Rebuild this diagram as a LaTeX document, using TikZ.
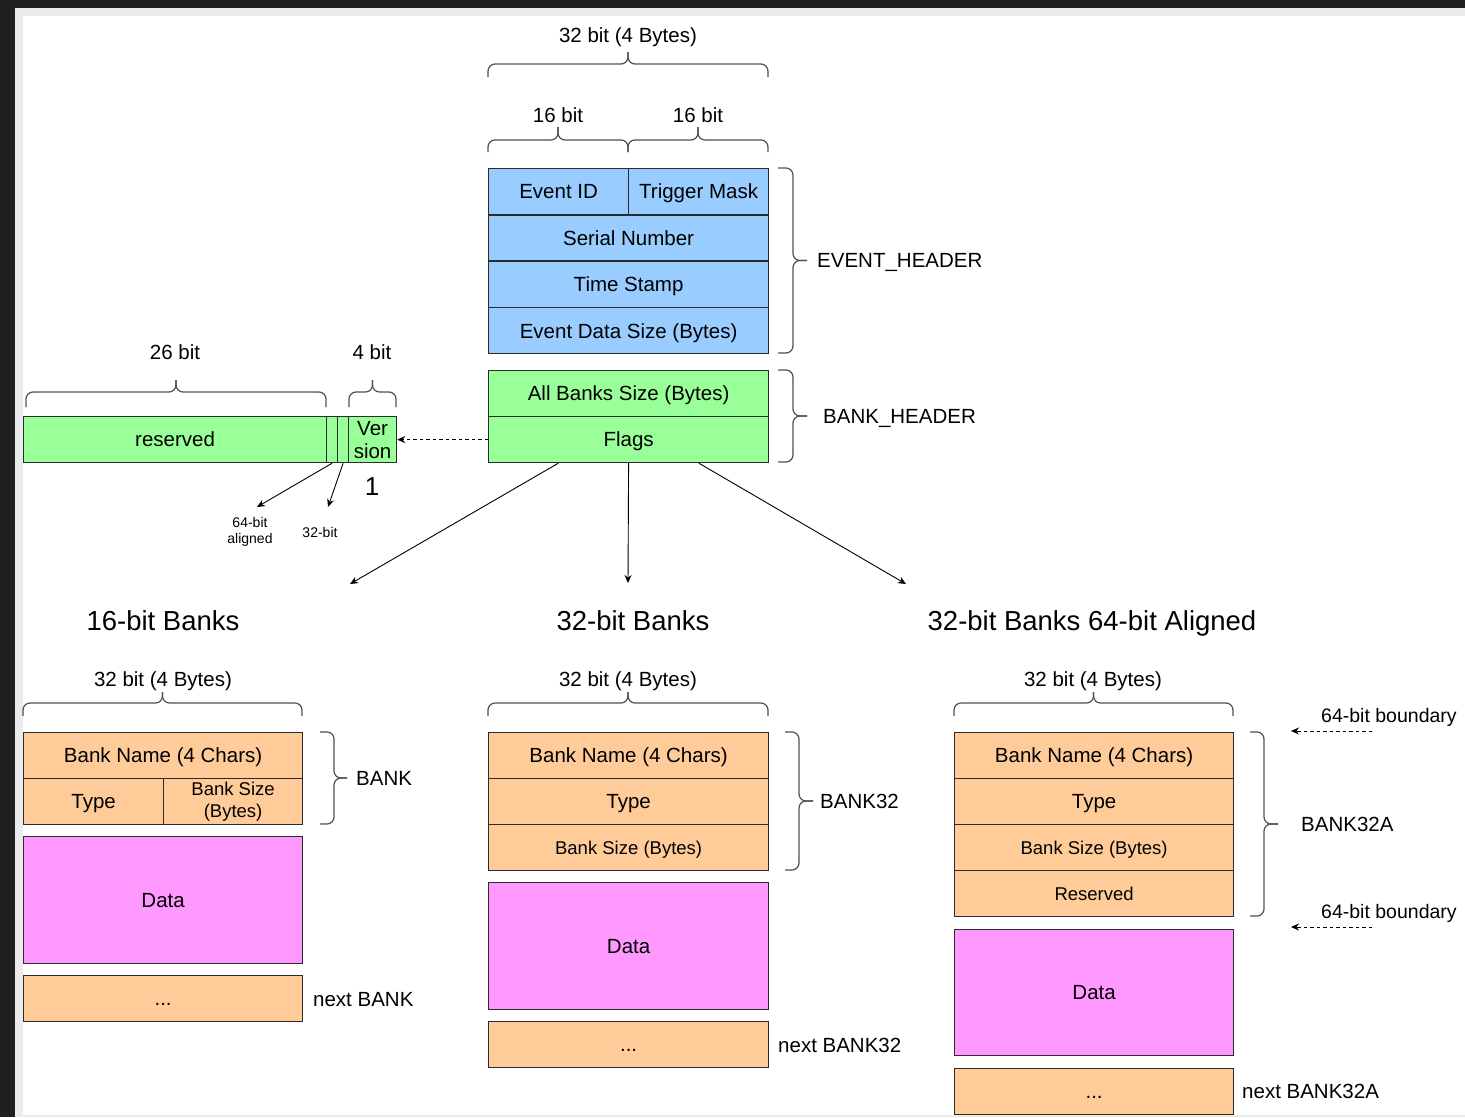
\documentclass[tikz,border=0pt]{standalone}
\usepackage{fontspec}
\setmainfont{Liberation Sans}
\usetikzlibrary{arrows.meta,calc}

\definecolor{hdrblue}{HTML}{99CCFF}
\definecolor{hdrgreen}{HTML}{99FF99}
\definecolor{bankorange}{HTML}{FFCC99}
\definecolor{datapink}{HTML}{FF99FF}
\definecolor{edgecol}{HTML}{2B2B2B}
\definecolor{bracecol}{HTML}{505050}
\definecolor{framedark}{HTML}{202020}
\definecolor{framelight}{HTML}{EBEBEB}

% horizontal curly brace: x1, x2, y of tip, y of bar, y of ends
\newcommand\hbrc[5]{%
  \draw[brc] (#1,#5) -- (#1,#4) -- ({(#1+#2)/2},#4) -- ({(#1+#2)/2},#3);
  \draw[brc] (#2,#5) -- (#2,#4) -- ({(#1+#2)/2},#4) -- ({(#1+#2)/2},#3);}
% vertical curly brace opening left: y1, y2, x of ends, x of bar, x of tip
\newcommand\vbrc[5]{%
  \draw[brc] (#3,#1) -- (#4,#1) -- (#4,{(#1+#2)/2}) -- (#5,{(#1+#2)/2});
  \draw[brc] (#3,#2) -- (#4,#2) -- (#4,{(#1+#2)/2}) -- (#5,{(#1+#2)/2});}

\begin{document}
\begin{tikzpicture}[x=1pt,y=-1pt,
  cellbase/.style={draw=edgecol, line width=1.2pt, inner sep=0pt, anchor=north west,
    minimum height=46pt, align=center, font=\fontsize{20.5}{23}\selectfont},
  capfix/.style={text height=#1, text depth=0pt},
  cell/.style={cellbase, capfix=14.7pt},
  smallcell/.style={cellbase, font=\fontsize{18.5}{22}\selectfont, capfix=13.3pt},
  lbl/.style={inner sep=0pt, font=\fontsize{20.5}{23}\selectfont, capfix=14.7pt},
  sidelbl/.style={lbl, anchor=west},
  tiny/.style={inner sep=0pt, align=center, font=\fontsize{14}{16}\selectfont},
  title/.style={inner sep=0pt, font=\fontsize{27.5}{30}\selectfont, capfix=19.7pt},
  brc/.style={draw=bracecol, line width=1.2pt, rounded corners=7pt},
  conn/.style={draw=black, line width=0.9pt, -{Stealth[length=8pt,width=7pt]}},
  dconn/.style={conn, dash pattern=on 3.5pt off 3pt}]

% page frame
\fill[framedark] (0,0) rectangle (1465,1117);
\fill[framelight] (15,8) rectangle (1465,1117);
\fill[white] (23,16) rectangle (1465,1115);
\useasboundingbox (0,0) rectangle (1465,1117);

% ---------- event header ----------
\node[lbl] (w32top) at (628,35) {32 bit (4 Bytes)};
\hbrc{488}{768}{52}{64}{77}
\node[lbl] (w16a) at (558,115) {16 bit};
\node[lbl] (w16b) at (698,115) {16 bit};
\hbrc{488}{628}{127}{140}{152}
\hbrc{628}{768}{127}{140}{152}

\node[cell, fill=hdrblue, minimum width=140pt] (eid) at (488,168) {Event ID};
\node[cell, fill=hdrblue, minimum width=140pt] (trig) at (628,168) {Trigger Mask};
\node[cell, fill=hdrblue, minimum width=280pt] (serial) at (488,214.3) {Serial Number};
\node[cell, fill=hdrblue, minimum width=280pt] (tstamp) at (488,260.6) {Time Stamp};
\node[cell, fill=hdrblue, minimum width=280pt, minimum height=46.3pt] (evsize) at (488,306.9) {Event Data Size (Bytes)};
\vbrc{168}{353}{778}{793}{807}
\node[sidelbl] (evhdr) at (817,260) {EVENT\_HEADER};

% ---------- bank header ----------
\node[cell, fill=hdrgreen, minimum width=280pt] (allbanks) at (488,370) {All Banks Size (Bytes)};
\node[cell, fill=hdrgreen, minimum width=280pt] (flags) at (488,416) {Flags};
\vbrc{370}{462}{778}{793}{807}
\node[sidelbl] (bkhdr) at (823,416) {BANK\_HEADER};

% ---------- flags word ----------
\node[lbl] (w26) at (175,352) {26 bit};
\node[lbl] (w4) at (372,352) {4 bit};
\hbrc{26}{326}{380}{392}{407}
\hbrc{349}{396}{380}{392}{407}
\node[cell, fill=hdrgreen, minimum width=303pt] (reserved) at (23,416) {reserved};
\node[cell, fill=hdrgreen, minimum width=11pt] (b64) at (326,416) {};
\node[cell, fill=hdrgreen, minimum width=11pt] (b32) at (337,416) {};
\node[cellbase, fill=hdrgreen, minimum width=48pt] (ver) at (348,416) {Ver\\sion};
\node[inner sep=0pt, font=\fontsize{26}{28}\selectfont, capfix=18.7pt] (one) at (372,486) {1};
\node[tiny] (l64) at (250,532) {64-bit\\aligned};
\node[tiny] (l32) at (320,532) {32-bit};
\coordinate (t64) at (257,507);
\coordinate (t32) at (328,507);
\draw[conn] (b64.south) -- (t64);
\draw[conn] (b32.south) -- (t32);
\draw[dconn] (flags.west) -- (ver.east);

% ---------- branches ----------
\coordinate (to16) at (350,584);
\coordinate (to32) at (628,583);
\coordinate (to32a) at (906,584);
\draw[conn] ($(flags.south west)!0.25!(flags.south east)$) -- (to16);
\draw[conn] (flags.south) -- (to32);
\draw[conn] ($(flags.south west)!0.75!(flags.south east)$) -- (to32a);

\node[title] (t16) at (163,621) {16-bit Banks};
\node[title] (t32) at (633,621) {32-bit Banks};
\node[title] (t32a) at (1092,621) {32-bit Banks 64-bit Aligned};

% ---------- 16-bit banks ----------
\node[lbl] (w16bank) at (163,679) {32 bit (4 Bytes)};
\hbrc{23}{302}{692}{703}{716}
\node[cell, fill=bankorange, minimum width=279pt] (bn16) at (23,732) {Bank Name (4 Chars)};
\node[cell, fill=bankorange, minimum width=140pt] (ty16) at (23,778) {Type};
\node[cellbase, font=\fontsize{18.5}{22}\selectfont, fill=bankorange, minimum width=139pt] (bs16) at (163,778) {Bank Size\\(Bytes)};
\vbrc{732}{824}{320}{334}{347}
\node[sidelbl] (lb16) at (356,778) {BANK};
\node[cell, fill=datapink, minimum width=279pt, minimum height=127pt] (da16) at (23,836) {Data};
\node[cell, fill=bankorange, minimum width=279pt] (nx16) at (23,975) {...};
\node[sidelbl] (nl16) at (313,999) {next BANK};

% ---------- 32-bit banks ----------
\node[lbl] (w32bank) at (628,679) {32 bit (4 Bytes)};
\hbrc{488}{768}{692}{703}{716}
\node[cell, fill=bankorange, minimum width=280pt] (bn32) at (488,732) {Bank Name (4 Chars)};
\node[cell, fill=bankorange, minimum width=280pt] (ty32) at (488,778) {Type};
\node[smallcell, fill=bankorange, minimum width=280pt] (bs32) at (488,824) {Bank Size (Bytes)};
\vbrc{732}{870}{785}{799}{813}
\node[sidelbl] (lb32) at (820,801) {BANK32};
\node[cell, fill=datapink, minimum width=280pt, minimum height=127pt] (da32) at (488,882) {Data};
\node[cell, fill=bankorange, minimum width=280pt] (nx32) at (488,1021) {...};
\node[sidelbl] (nl32) at (778,1045) {next BANK32};

% ---------- 32-bit banks, 64-bit aligned ----------
\node[lbl] (w32abank) at (1093,679) {32 bit (4 Bytes)};
\hbrc{954}{1233}{692}{703}{716}
\node[cell, fill=bankorange, minimum width=279pt] (bnA) at (954,732) {Bank Name (4 Chars)};
\node[cell, fill=bankorange, minimum width=279pt] (tyA) at (954,778) {Type};
\node[smallcell, fill=bankorange, minimum width=279pt] (bsA) at (954,824) {Bank Size (Bytes)};
\node[smallcell, fill=bankorange, minimum width=279pt] (rsA) at (954,870) {Reserved};
\vbrc{732}{916}{1250}{1264}{1278}
\node[sidelbl] (lbA) at (1301,824) {BANK32A};
\node[cell, fill=datapink, minimum width=279pt, minimum height=126pt] (daA) at (954,929) {Data};
\node[cell, fill=bankorange, minimum width=279pt] (nxA) at (954,1068) {...};
\node[sidelbl] (nlA) at (1242,1091) {next BANK32A};

\node[sidelbl, font=\fontsize{19.5}{22}\selectfont, capfix=14pt] (bd1) at (1321,715) {64-bit boundary};
\node[sidelbl, font=\fontsize{19.5}{22}\selectfont, capfix=14pt] (bd2) at (1321,911) {64-bit boundary};
\coordinate (bd1s) at (1372,731);
\coordinate (bd1e) at (1291,731);
\coordinate (bd2s) at (1372,927);
\coordinate (bd2e) at (1291,927);
\draw[dconn] (bd1s) -- (bd1e);
\draw[dconn] (bd2s) -- (bd2e);

\end{tikzpicture}
\end{document}
